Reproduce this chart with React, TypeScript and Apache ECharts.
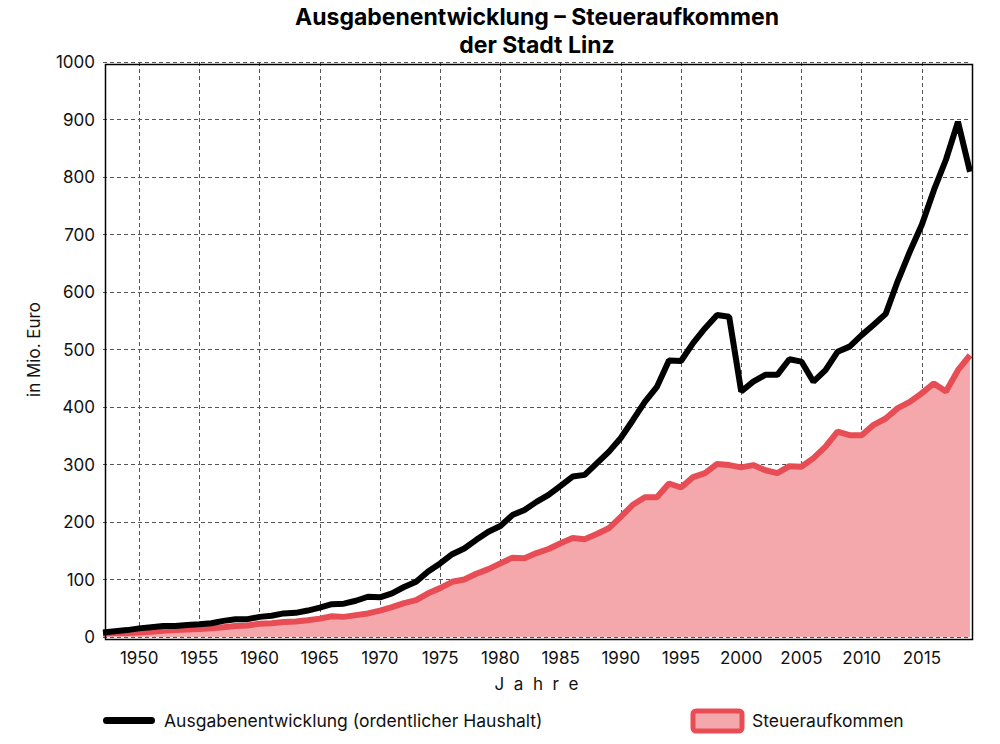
import React, { useEffect, useRef } from "react";
import * as echarts from "echarts";

const years: string[] = [];
for (let y = 1947; y <= 2019; y++) years.push(String(y));

const ausgaben = [
  8, 10, 12, 15, 17, 19, 19, 21, 22, 24,
  28, 31, 31, 35, 37, 41, 42, 46, 51, 57,
  58, 63, 70, 69, 76, 87, 96, 114, 128, 144,
  154, 169, 183, 193, 212, 221, 235, 247, 263, 279,
  282, 302, 322, 346, 377, 409, 435, 481, 480, 511,
  537, 560, 557, 427, 444, 456, 456, 483, 479, 444,
  464, 496, 505, 525, 543, 562, 619, 670, 717, 777,
  830, 896, 809,
];

const steuer = [
  6, 7, 7, 8, 9, 11, 12, 13, 14, 15,
  17, 19, 20, 23, 24, 26, 27, 29, 32, 36,
  35, 38, 41, 46, 52, 59, 64, 76, 85, 96,
  100, 110, 118, 128, 138, 137, 146, 153, 163, 172,
  170, 179, 189, 209, 230, 243, 243, 267, 260, 278,
  285, 301, 299, 295, 299, 290, 285, 297, 296, 311,
  331, 357, 351, 351, 369, 380, 398, 409, 424, 441,
  427, 464, 490,
];

const titleLines = ["Ausgabenentwicklung – Steueraufkommen", "der Stadt Linz"];
const legendNames = ["Ausgabenentwicklung (ordentlicher Haushalt)", "Steueraufkommen"];
const xName = "J\u00a0\u00a0a\u00a0\u00a0h\u00a0\u00a0r\u00a0\u00a0e";

const FONT = "Inter, 'Noto Sans', sans-serif";
const RED = "#e84d56";
const PINK = "#f5a8ab";

export default function App() {
  const ref = useRef<HTMLDivElement>(null);
  useEffect(() => {
    document.body.style.margin = "0";
    if (!ref.current) return;
    const chart = echarts.init(ref.current, null, { renderer: "svg" });
    const isFive = (_i: number, v: string) => Number(v) % 5 === 0;
    chart.setOption({
      animation: false,
      textStyle: { fontFamily: FONT },
      grid: { left: 103, right: 30, top: 62, bottom: 107, show: false },
      xAxis: {
        type: "category",
        data: years,
        boundaryGap: false,
        name: xName,
        nameLocation: "middle",
        nameGap: 38,
        nameTextStyle: { fontSize: 17, color: "#111", fontFamily: FONT },
        axisLine: { show: false },
        axisTick: { show: false },
        axisLabel: {
          interval: isFive,
          fontSize: 17,
          color: "#111",
          margin: 12,
          fontFamily: FONT,
        },
        splitLine: {
          show: true,
          interval: isFive,
          lineStyle: { color: "#555", type: [4, 3], width: 1 },
        },
      },
      yAxis: {
        type: "value",
        min: 0,
        max: 1000,
        interval: 100,
        name: "in Mio. Euro",
        nameLocation: "middle",
        nameGap: 61,
        nameTextStyle: { fontSize: 17, color: "#111", fontFamily: FONT },
        axisLine: { show: false },
        axisTick: { show: false },
        axisLabel: {
          fontSize: 17,
          color: "#111",
          margin: 8,
          fontFamily: FONT,
          formatter: (v: number) => String(v),
        },
        splitLine: { show: true, lineStyle: { color: "#555", type: [4, 3], width: 1 } },
      },
      series: [
        {
          name: legendNames[1],
          type: "line",
          data: steuer,
          symbol: "none",
          lineStyle: { color: RED, width: 6 },
          areaStyle: { color: PINK, opacity: 1 },
          z: 2,
        },
        {
          name: legendNames[0],
          type: "line",
          data: ausgaben,
          symbol: "none",
          lineStyle: { color: "#000", width: 6 },
          z: 3,
        },
      ],
      graphic: [
        {
          type: "rect",
          left: 103,
          top: 62,
          shape: { width: 867, height: 575 },
          style: { fill: "none", stroke: "#000", lineWidth: 1.5 },
          z: 100,
          silent: true,
        },
        {
          type: "text",
          x: 537,
          y: 17,
          style: {
            text: titleLines[0],
            font: `bold 23px ${FONT}`,
            fill: "#000",
            align: "center",
            verticalAlign: "middle",
          },
        },
        {
          type: "text",
          x: 537,
          y: 45,
          style: {
            text: titleLines[1],
            font: `bold 23px ${FONT}`,
            fill: "#000",
            align: "center",
            verticalAlign: "middle",
          },
        },
        {
          type: "rect",
          shape: { x: 103, y: 717, width: 52, height: 7, r: 3.5 },
          style: { fill: "#000" },
        },
        {
          type: "text",
          x: 164,
          y: 720,
          style: {
            text: legendNames[0],
            font: `17.5px ${FONT}`,
            fill: "#111",
            verticalAlign: "middle",
          },
        },
        {
          type: "rect",
          shape: { x: 693, y: 711, width: 49, height: 20, r: 3 },
          style: { fill: PINK, stroke: RED, lineWidth: 5 },
        },
        {
          type: "text",
          x: 752,
          y: 720,
          style: {
            text: legendNames[1],
            font: `17.5px ${FONT}`,
            fill: "#111",
            verticalAlign: "middle",
          },
        },
      ],
    });
    return () => chart.dispose();
  }, []);
  return <div ref={ref} style={{ width: 1000, height: 744 }} />;
}
